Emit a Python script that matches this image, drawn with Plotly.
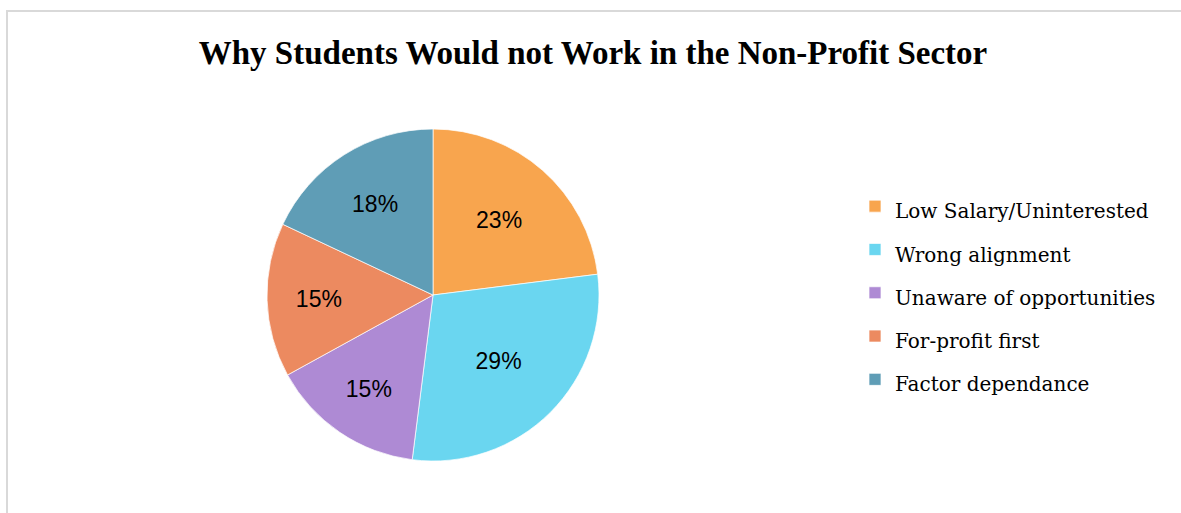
import plotly.graph_objects as go

categories = ["Low Salary/Uninterested", "Wrong alignment", "Unaware of opportunities",
              "For-profit first", "Factor dependance"]
values = [23, 29, 15, 15, 18]
colors = ["#F8A54E", "#6AD6F0", "#AE8AD4", "#EC8A60", "#5F9DB6"]
title_text = "Why Students Would not Work in the Non-Profit Sector"

W, H = 1181, 513

legend_labels = ['<span style="font-size:20px">%s</span>' % c for c in categories]

fig = go.Figure(go.Pie(
    labels=legend_labels,
    values=values,
    sort=False,
    direction="clockwise",
    rotation=0,
    marker=dict(colors=colors, line=dict(color="rgba(255,255,255,0.7)", width=1)),
    texttemplate="%{percent:.0%}",
    textposition="inside",
    insidetextorientation="horizontal",
    textfont=dict(family="Liberation Sans, Arial, sans-serif", size=23, color="#000000"),
    domain=dict(x=[267 / W, 599 / W], y=[1 - 461 / H, 1 - 129 / H]),
    hoverinfo="label+percent",
))

fig.update_layout(
    width=W, height=H,
    margin=dict(l=0, r=0, t=0, b=0),
    paper_bgcolor="white",
    plot_bgcolor="white",
    title=dict(text="<b>%s</b>" % title_text, x=593 / W, xanchor="center",
               y=1 - 52 / H, yanchor="middle",
               font=dict(family="Liberation Serif, Times New Roman, serif", size=33, color="#000000")),
    showlegend=True,
    legend=dict(x=855 / W, xanchor="left", y=1 - 293 / H, yanchor="middle",
                font=dict(family="DejaVu Serif, serif", size=31, color="#000000"),
                bgcolor="rgba(0,0,0,0)"),
    shapes=[dict(type="rect", xref="paper", yref="paper",
                 x0=7 / W, x1=1.02, y0=-0.05, y1=1 - 11 / H,
                 line=dict(color="#D9D9D9", width=2), fillcolor="rgba(0,0,0,0)", layer="below")],
)

fig.write_html("out.html")
